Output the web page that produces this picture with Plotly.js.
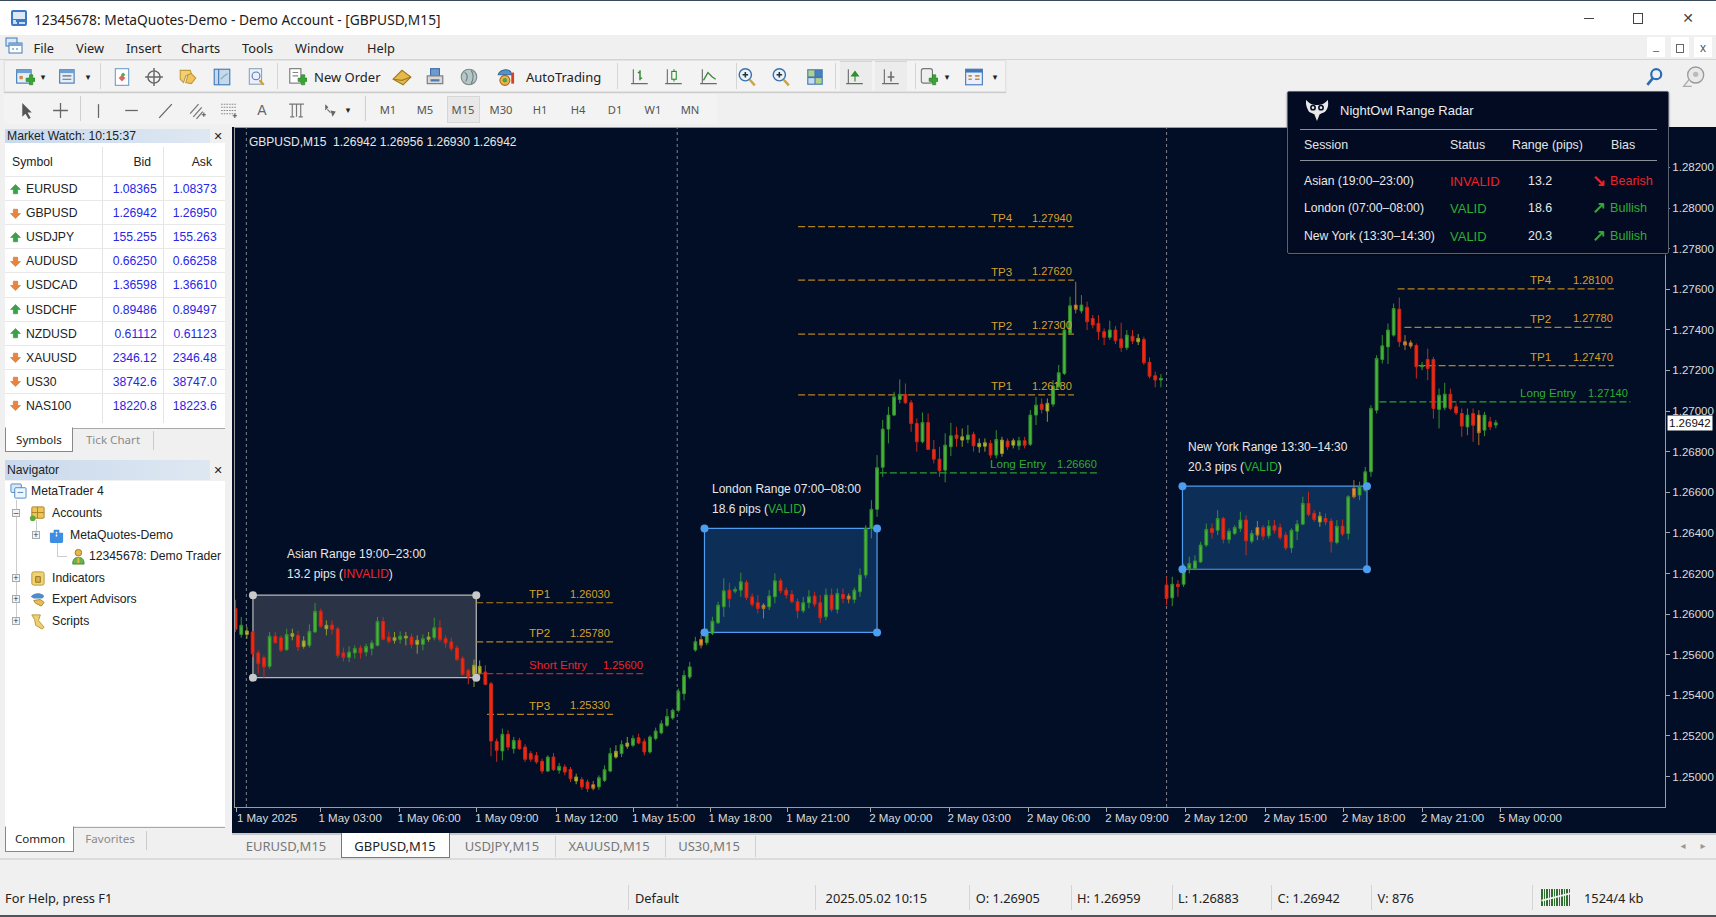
<!DOCTYPE html>
<html><head><meta charset="utf-8"><title>GBPUSD,M15</title>
<script src="https://cdn.plot.ly/plotly-3.0.1.min.js"></script>
<style>
html,body{margin:0;padding:0;width:1716px;height:917px;overflow:hidden;background:#f0f0f0;font-family:"Noto Sans",sans-serif;color:#222}
#app{position:relative;width:1716px;height:917px;overflow:hidden}
.b,.t,svg.i{position:absolute}
.t{white-space:nowrap;line-height:1;transform:translateY(-50%)}
.t.r{transform:translate(-100%,-50%)}
.t.c{transform:translate(-50%,-50%)}
#chart{position:absolute;left:232px;top:127px;width:1484px;height:706px}
</style></head><body><div id="app"></div>
<script>
// ---------- candle data, GBPUSD M15 ----------
const barOpen=[
1.26027,1.25900,1.25900,1.25912,1.25809,1.25785,1.25743,1.25891,1.25884,1.25825,
1.25891,1.25895,1.25841,1.25846,1.25912,1.26014,1.25928,1.25946,1.25927,1.25809,
1.25787,1.25809,1.25833,1.25813,1.25830,1.25846,1.25964,1.25887,1.25871,1.25876,
1.25882,1.25887,1.25851,1.25851,1.25876,1.25884,1.25933,1.25879,1.25863,1.25833,
1.25781,1.25723,1.25703,1.25710,1.25715,1.25657,1.25373,1.25326,1.25408,1.25337,
1.25378,1.25345,1.25313,1.25304,1.25275,1.25227,1.25296,1.25231,1.25247,1.25235,
1.25178,1.25185,1.25173,1.25160,1.25149,1.25181,1.25227,1.25296,1.25313,1.25349,
1.25354,1.25391,1.25373,1.25321,1.25387,1.25415,1.25452,1.25488,1.25526,1.25608,
1.25690,
1.25823,1.25875,1.25859,1.25905,1.25957,1.26036,1.26118,1.26113,1.26118,1.26156,
1.26085,1.26056,1.26044,1.26036,1.26085,1.26164,1.26118,1.26097,1.26061,1.26016,
1.26056,1.26089,1.26056,1.25987,1.26094,1.26023,1.26097,1.26089,1.26072,1.26110,
1.26192,1.26422,1.26516,1.26723,1.26911,1.26980,1.27057,1.27082,1.27041,1.26939,
1.26849,1.26944,1.26811,1.26763,1.26709,1.26824,1.26882,1.26857,1.26860,1.26885,
1.26824,1.26827,1.26841,1.26783,1.26791,1.26852,1.26832,1.26829,1.26854,1.26836,
1.26980,1.27034,1.27000,1.27034,1.27120,1.27185,1.27383,1.27522,1.27493,1.27511,
1.27456,1.27432,1.27391,1.27363,1.27399,1.27355,1.27312,1.27369,1.27341,1.27353,
1.27240,1.27174,1.27153,
1.26143,1.26080,1.26147,1.26147,1.26225,1.26225,1.26257,1.26340,1.26422,1.26413,
1.26471,1.26367,1.26397,1.26422,1.26463,1.26359,1.26426,1.26426,1.26386,1.26435,
1.26426,1.26389,1.26326,1.26408,1.26443,1.26545,1.26496,1.26454,1.26471,1.26458,
1.26353,1.26433,1.26397,1.26619,1.26586,1.26610,1.26701,1.27004,1.27254,1.27316,
1.27374,1.27502,1.27341,1.27336,1.27323,1.27218,1.27254,1.27254,1.27008,1.27016,
1.27083,1.27021,1.26988,1.26922,1.26988,1.26980,1.26906,1.26947,1.26931];
const barHigh=[
1.26071,1.25986,1.25937,1.25917,1.25822,1.25797,1.25912,1.25912,1.25895,1.25928,
1.25928,1.25917,1.25891,1.25950,1.26055,1.26027,1.25969,1.25969,1.25937,1.25835,
1.25841,1.25846,1.25846,1.25854,1.25871,1.25986,1.25986,1.25915,1.25912,1.25915,
1.25912,1.25904,1.25895,1.25900,1.25912,1.25982,1.25969,1.25895,1.25884,1.25846,
1.25792,1.25731,1.25776,1.25772,1.25748,1.25666,1.25387,1.25436,1.25428,1.25395,
1.25391,1.25359,1.25326,1.25321,1.25288,1.25304,1.25316,1.25267,1.25260,1.25247,
1.25214,1.25198,1.25185,1.25178,1.25206,1.25255,1.25342,1.25354,1.25378,1.25395,
1.25403,1.25411,1.25387,1.25403,1.25441,1.25477,1.25534,1.25534,1.25633,1.25723,
1.25765,
1.25888,1.25896,1.25929,1.25987,1.26061,1.26176,1.26154,1.26135,1.26204,1.26167,
1.26102,1.26094,1.26053,1.26118,1.26200,1.26176,1.26131,1.26118,1.26077,1.26085,
1.26118,1.26110,1.26094,1.26126,1.26126,1.26126,1.26126,1.26102,1.26131,1.26225,
1.26438,1.26561,1.26783,1.26956,1.27021,1.27095,1.27156,1.27136,1.27054,1.26964,
1.26993,1.26988,1.26857,1.26824,1.26890,1.26942,1.26923,1.26914,1.26931,1.26898,
1.26865,1.26865,1.26857,1.26906,1.26873,1.26865,1.26865,1.26873,1.26873,1.27005,
1.27070,1.27062,1.27062,1.27153,1.27227,1.27448,1.27563,1.27637,1.27571,1.27539,
1.27473,1.27473,1.27407,1.27445,1.27419,1.27435,1.27399,1.27399,1.27379,1.27366,
1.27264,1.27194,1.27182,
1.26184,1.26184,1.26167,1.26249,1.26282,1.26290,1.26356,1.26446,1.26446,1.26512,
1.26479,1.26422,1.26438,1.26504,1.26487,1.26413,1.26459,1.26438,1.26463,1.26463,
1.26446,1.26405,1.26422,1.26463,1.26578,1.26602,1.26512,1.26504,1.26496,1.26471,
1.26463,1.26466,1.26586,1.26660,1.26652,1.26725,1.27029,1.27275,1.27374,1.27431,
1.27530,1.27559,1.27374,1.27349,1.27333,1.27242,1.27308,1.27267,1.27111,1.27139,
1.27111,1.27037,1.27013,1.27013,1.27013,1.27004,1.26996,1.26972,1.26956];
const barLow=[
1.25912,1.25884,1.25879,1.25789,1.25707,1.25687,1.25731,1.25855,1.25813,1.25818,
1.25871,1.25818,1.25830,1.25835,1.25907,1.25933,1.25895,1.25900,1.25784,1.25767,
1.25764,1.25781,1.25781,1.25792,1.25797,1.25841,1.25871,1.25855,1.25855,1.25855,
1.25846,1.25830,1.25805,1.25822,1.25863,1.25871,1.25863,1.25835,1.25818,1.25769,
1.25698,1.25654,1.25641,1.25698,1.25649,1.25300,1.25272,1.25280,1.25329,1.25313,
1.25332,1.25272,1.25272,1.25263,1.25214,1.25222,1.25227,1.25214,1.25206,1.25173,
1.25162,1.25135,1.25124,1.25132,1.25135,1.25173,1.25221,1.25288,1.25296,1.25337,
1.25345,1.25359,1.25304,1.25313,1.25378,1.25408,1.25444,1.25480,1.25516,1.25575,
1.25680,
1.25815,1.25831,1.25847,1.25896,1.25951,1.25987,1.26033,1.26102,1.26085,1.26069,
1.26036,1.26003,1.25979,1.26020,1.26053,1.26102,1.26077,1.26053,1.25979,1.26006,
1.26028,1.26036,1.25957,1.25970,1.26011,1.26003,1.26053,1.26053,1.26053,1.26085,
1.26176,1.26373,1.26479,1.26676,1.26841,1.26975,1.27038,1.27034,1.26898,1.26800,
1.26841,1.26808,1.26742,1.26676,1.26649,1.26778,1.26824,1.26824,1.26841,1.26800,
1.26795,1.26800,1.26767,1.26767,1.26775,1.26808,1.26816,1.26808,1.26816,1.26828,
1.26931,1.26988,1.26947,1.27021,1.27112,1.27177,1.27374,1.27481,1.27481,1.27399,
1.27407,1.27350,1.27325,1.27350,1.27330,1.27292,1.27300,1.27330,1.27325,1.27227,
1.27161,1.27117,1.27117,
1.26044,1.26039,1.26085,1.26134,1.26200,1.26216,1.26252,1.26331,1.26372,1.26389,
1.26348,1.26348,1.26389,1.26405,1.26290,1.26348,1.26364,1.26364,1.26372,1.26397,
1.26364,1.26315,1.26302,1.26364,1.26438,1.26482,1.26454,1.26430,1.26438,1.26303,
1.26344,1.26384,1.26367,1.26569,1.26561,1.26602,1.26676,1.26988,1.27234,1.27231,
1.27366,1.27316,1.27300,1.27308,1.27160,1.27201,1.27152,1.26963,1.26914,1.27004,
1.27004,1.26980,1.26873,1.26881,1.26848,1.26832,1.26876,1.26906,1.26915];
const barClose=[
1.25925,1.25945,1.25917,1.25805,1.25756,1.25740,1.25891,1.25859,1.25822,1.25900,
1.25904,1.25838,1.25868,1.25915,1.26014,1.25940,1.25945,1.25925,1.25797,1.25787,
1.25813,1.25830,1.25809,1.25841,1.25858,1.25964,1.25876,1.25866,1.25884,1.25891,
1.25891,1.25850,1.25871,1.25879,1.25887,1.25933,1.25874,1.25858,1.25830,1.25776,
1.25703,1.25690,1.25748,1.25743,1.25654,1.25375,1.25329,1.25408,1.25345,1.25378,
1.25337,1.25285,1.25285,1.25272,1.25227,1.25296,1.25234,1.25250,1.25222,1.25189,
1.25198,1.25149,1.25140,1.25142,1.25194,1.25234,1.25313,1.25324,1.25357,1.25365,
1.25387,1.25365,1.25321,1.25395,1.25424,1.25460,1.25496,1.25526,1.25620,1.25698,
1.25740,
1.25864,1.25847,1.25905,1.25965,1.26044,1.26115,1.26077,1.26121,1.26159,1.26082,
1.26048,1.26028,1.26028,1.26089,1.26164,1.26115,1.26094,1.26061,1.26016,1.26056,
1.26085,1.26049,1.25982,1.26094,1.26023,1.26102,1.26077,1.26074,1.26118,1.26192,
1.26422,1.26516,1.26721,1.26911,1.26980,1.27070,1.27082,1.27041,1.26939,1.26849,
1.26944,1.26811,1.26763,1.26706,1.26832,1.26878,1.26865,1.26873,1.26882,1.26829,
1.26841,1.26844,1.26783,1.26860,1.26857,1.26824,1.26854,1.26854,1.26832,1.26980,
1.27029,1.27008,1.27038,1.27123,1.27189,1.27399,1.27519,1.27501,1.27522,1.27440,
1.27424,1.27391,1.27363,1.27399,1.27346,1.27312,1.27374,1.27345,1.27358,1.27238,
1.27172,1.27153,1.27161,
1.26077,1.26147,1.26136,1.26216,1.26249,1.26262,1.26340,1.26417,1.26402,1.26471,
1.26369,1.26408,1.26427,1.26463,1.26361,1.26397,1.26389,1.26384,1.26433,1.26413,
1.26377,1.26326,1.26413,1.26443,1.26545,1.26491,1.26466,1.26482,1.26454,1.26356,
1.26433,1.26394,1.26578,1.26578,1.26627,1.26701,1.27013,1.27259,1.27321,1.27399,
1.27505,1.27341,1.27325,1.27320,1.27218,1.27226,1.27210,1.27013,1.27078,1.27083,
1.27013,1.26991,1.26926,1.26980,1.26930,1.26893,1.26980,1.26922,1.26942];
// bars whose very small bodies read as amber in the picture
const amberBars=[2,10,12,16,28,30,32,34,42,43,60,63,67,69,82,93,108,128,131,132,135,137,143,148,159,180,191,197,206,207,219];
const barIndex=barOpen.map((_,i)=>i);

// ---------- axes ----------
const xTickBars=[0.25,14.9,28.8,42.5,56.5,70.1,83.6,97.3,111.9,125.7,139.7,153.5,167.4,181.4,195.2,209.1,222.8];
const xTickLabels=["1 May 2025","1 May 03:00","1 May 06:00","1 May 09:00","1 May 12:00","1 May 15:00","1 May 18:00","1 May 21:00","2 May 00:00","2 May 03:00","2 May 06:00","2 May 09:00","2 May 12:00","2 May 15:00","2 May 18:00","2 May 21:00","5 May 00:00"];
const yTickVals=[1.282,1.280,1.278,1.276,1.274,1.272,1.270,1.268,1.266,1.264,1.262,1.260,1.258,1.256,1.254,1.252];
const yTickLabels=["1.28200","1.28000","1.27800","1.27600","1.27400","1.27200","1.27000","1.26800","1.26600","1.26400","1.26200","1.26000","1.25600","1.25400","1.25200","1.25000"];
const lastPrice=1.26942;
const separatorBars=[1.9,77.8,164.0];

// ---------- session boxes ----------
const boxTitle=["Asian Range 19:00–23:00","London Range 07:00–08:00","New York Range 13:30–14:30"];
const boxPips=["13.2 pips","18.6 pips","20.3 pips"];
const boxStatus=["INVALID","VALID","VALID"];
const boxFromBar=[3.06,82.6,166.8];
const boxToBar=[42.4,113.0,199.3];
const boxHigh=[1.26093,1.26422,1.26630];
const boxLow=[1.25687,1.25910,1.26221];
const boxLabelBar=[8.7,83.6,167.5];
const boxLabelPrice=[1.26295,1.26615,1.26824];

// ---------- trade levels ----------
const levelName=["TP1","TP2","Short Entry","TP3","TP4","TP3","TP2","TP1","Long Entry","TP4","TP2","TP1","Long Entry"];
const levelValue=["1.26030","1.25780","1.25600","1.25330","1.27940","1.27620","1.27300","1.26180","1.26660","1.28100","1.27780","1.27470","1.27140"];
const levelY=[1.26056,1.25863,1.25707,1.25506,1.27908,1.27645,1.27379,1.27080,1.26696,1.27602,1.27412,1.27224,1.27045];
const levelFrom=[42.4,42.4,42.4,44.3,99.1,99.1,99.1,99.1,113.5,204.7,205.9,208.4,201.5];
const levelTo=[66.5,66.5,72.3,66.5,147.6,147.7,147.7,147.7,152.0,242.8,242.8,242.8,245.7];
const levelNameBar=[51.3,51.3,51.3,51.3,132.8,132.8,132.8,132.8,132.6,227.7,227.7,227.7,225.9];
const levelValueBar=[66.3,66.3,72.2,66.3,147.7,147.7,147.7,147.7,152.1,243.0,243.0,243.0,245.6];

// ---------- panels ----------
const watchSymbols=["EURUSD","GBPUSD","USDJPY","AUDUSD","USDCAD","USDCHF","NZDUSD","XAUUSD","US30","NAS100"];
const watchBid=["1.08365","1.26942","155.255","0.66250","1.36598","0.89486","0.61112","2346.12","38742.6","18220.8"];
const watchAsk=["1.08373","1.26950","155.263","0.66258","1.36610","0.89497","0.61123","2346.48","38747.0","18223.6"];
const watchUp=[1,0,1,0,0,1,1,0,0,0];
const radarSession=["Asian (19:00–23:00)","London (07:00–08:00)","New York (13:30–14:30)"];
const radarStatus=["INVALID","VALID","VALID"];
const radarPips=["13.2","18.6","20.3"];
const radarBias=["Bearish","Bullish","Bullish"];
const menuItems=["File","View","Insert","Charts","Tools","Window","Help"];
const timeframes=["M1","M5","M15","M30","H1","H4","D1","W1","MN"];
const chartTabs=["EURUSD,M15","GBPUSD,M15","USDJPY,M15","XAUUSD,M15","US30,M15"];
const statusCells=["2025.05.02 10:15","O: 1.26905","H: 1.26959","L: 1.26883","C: 1.26942","V: 876"];

// ---------- colours ----------
const BG="#020e25",GOLD="#d6a02c",GOLDLINE="#b5811f",RED="#f02228",GREEN="#30ad30",WHITE="#e8e8e8";
const colourOf=s=>s==="INVALID"?RED:GREEN;

// ---------- plotly chart ----------
const shapes=[];
separatorBars.forEach(b=>shapes.push({type:"line",layer:"below",xref:"x",yref:"paper",x0:b,x1:b,y0:0,y1:1,line:{color:"#7e838e",width:1,dash:"dot"}}));
boxTitle.forEach((_,i)=>{
  const grey=i===0;
  shapes.push({type:"rect",layer:"below",xref:"x",yref:"y",x0:boxFromBar[i],x1:boxToBar[i],y0:boxLow[i],y1:boxHigh[i],
    fillcolor:grey?"rgba(190,190,195,0.22)":"rgba(40,125,205,0.30)",
    line:{color:grey?"#b9b9b9":"#4f9df0",width:1.2}});
});
levelName.forEach((n,i)=>{
  const c=n.startsWith("Short")?"#c8202c":n.startsWith("Long")?"#2d9c33":GOLDLINE;
  shapes.push({type:"line",layer:"below",xref:"x",yref:"y",x0:levelFrom[i],x1:levelTo[i],y0:levelY[i],y1:levelY[i],line:{color:c,width:1.2,dash:"7px,3px"}});
});
const annotations=[];
levelName.forEach((n,i)=>{
  const c=n.startsWith("Short")?RED:n.startsWith("Long")?GREEN:GOLD;
  annotations.push({xref:"x",yref:"y",x:levelNameBar[i],y:levelY[i],yshift:9,text:n,showarrow:false,xanchor:"left",yanchor:"middle",font:{family:"Liberation Sans",size:11.6,color:c}});
  annotations.push({xref:"x",yref:"y",x:levelValueBar[i],y:levelY[i],yshift:9,text:levelValue[i],showarrow:false,xanchor:"right",yanchor:"middle",font:{family:"Liberation Sans",size:11,color:c}});
});
boxTitle.forEach((t,i)=>{
  annotations.push({xref:"x",yref:"y",x:boxLabelBar[i],y:boxLabelPrice[i],text:t,showarrow:false,xanchor:"left",yanchor:"middle",font:{family:"Liberation Sans",size:12,color:WHITE}});
  annotations.push({xref:"x",yref:"y",x:boxLabelBar[i],y:boxLabelPrice[i],yshift:-20,showarrow:false,xanchor:"left",yanchor:"middle",font:{family:"Liberation Sans",size:12,color:WHITE},
    text:boxPips[i]+' (<span style="color:'+colourOf(boxStatus[i])+'">'+boxStatus[i]+'</span>)'});
});
annotations.push({xref:"paper",yref:"paper",x:0,y:1,xshift:12,yshift:-14,xanchor:"left",yanchor:"middle",showarrow:false,
  text:"GBPUSD,M15  1.26942 1.26956 1.26930 1.26942",font:{family:"Liberation Sans",size:12,color:WHITE}});
annotations.push({xref:"paper",yref:"y",x:1,xshift:2,y:lastPrice,xanchor:"left",yanchor:"middle",showarrow:false,text:"1.26942",
  bgcolor:"#ffffff",borderpad:1,font:{family:"Liberation Sans",size:11.5,color:"#111"}});

const cornerX=[],cornerY=[],cornerC=[];
boxTitle.forEach((_,i)=>{
  [[boxFromBar[i],boxHigh[i]],[boxToBar[i],boxHigh[i]],[boxFromBar[i],boxLow[i]],[boxToBar[i],boxLow[i]]].forEach(p=>{
    cornerX.push(p[0]);cornerY.push(p[1]);cornerC.push(i===0?"#c9c9c9":"#4f9df0");
  });
});
const isAmber=new Set(amberBars);
const mainIdx=barIndex.filter(i=>!isAmber.has(i));
const pick=(arr,idx)=>idx.map(i=>arr[i]);
const traces=[
 {type:"candlestick",x:mainIdx,open:pick(barOpen,mainIdx),high:pick(barHigh,mainIdx),low:pick(barLow,mainIdx),close:pick(barClose,mainIdx),whiskerwidth:0,showlegend:false,hoverinfo:"skip",
  increasing:{line:{color:"#35902f",width:1},fillcolor:"#48b53a"},
  decreasing:{line:{color:"#c8281a",width:1},fillcolor:"#f5280f"}},
 {type:"candlestick",x:amberBars,open:pick(barOpen,amberBars),high:pick(barHigh,amberBars),low:pick(barLow,amberBars),close:pick(barClose,amberBars),whiskerwidth:0,showlegend:false,hoverinfo:"skip",
  increasing:{line:{color:"#8f9a2c",width:1},fillcolor:"#c9b52a"},
  decreasing:{line:{color:"#b0702a",width:1},fillcolor:"#e8962a"}},
 {type:"scatter",mode:"markers",x:cornerX,y:cornerY,showlegend:false,hoverinfo:"skip",marker:{size:8,color:cornerC}}
];
const axisFont={family:"Liberation Sans",size:11.5,color:"#dcdcdc"};
const layout={
  width:1484,height:706,autosize:false,paper_bgcolor:BG,plot_bgcolor:BG,showlegend:false,boxgap:0.3,boxmode:"overlay",
  margin:{l:2.7,r:50.5,t:1,b:26.3,pad:0,autoexpand:false},
  xaxis:{type:"linear",range:[-0.1,251.8],tickmode:"array",tickvals:xTickBars,ticktext:xTickLabels,tickangle:0,ticks:"outside",ticklen:4,tickcolor:"#a8a8a8",
    ticklabelshift:30,ticklabelstandoff:-4,tickfont:axisFont,showgrid:false,zeroline:false,showline:true,mirror:true,linecolor:"#9c9c9c",linewidth:1,rangeslider:{visible:false},fixedrange:true},
  yaxis:{type:"linear",side:"right",range:[1.25050,1.28394],tickmode:"array",tickvals:yTickVals,ticktext:yTickLabels,ticks:"outside",ticklen:4,tickcolor:"#a8a8a8",
    tickfont:axisFont,showgrid:false,zeroline:false,showline:true,mirror:true,linecolor:"#9c9c9c",linewidth:1,fixedrange:true},
  shapes,annotations
};

// ---------- window chrome ----------
const app=document.getElementById("app");
function box(x,y,w,h,css){const d=document.createElement("div");d.className="b";d.style.cssText=`left:${x}px;top:${y}px;width:${w}px;height:${h}px;${css||""}`;app.appendChild(d);return d;}
function txt(x,y,s,css,cls){const d=document.createElement("div");d.className="t "+(cls||"");d.style.cssText=`left:${x}px;top:${y}px;${css||""}`;d.textContent=s;app.appendChild(d);return d;}
function ic(cx,cy,inner,size){const s=size||18;const n=document.createElementNS("http://www.w3.org/2000/svg","svg");n.setAttribute("class","i");n.setAttribute("viewBox","0 0 18 18");n.setAttribute("width",s);n.setAttribute("height",s);n.style.left=(cx-s/2)+"px";n.style.top=(cy-s/2)+"px";n.innerHTML=inner;app.appendChild(n);return n;}
const SYS='font-family:"Noto Sans",sans-serif;';
const LIB='font-family:"Liberation Sans",sans-serif;';
const plus='<path d="M10 10h3V7h3v3h2v3h-2v3h-3v-3h-3z" fill="#3aa535" stroke="#1f7a1f" stroke-width=".5"/>';
const win='<rect x="1.5" y="2.5" width="13" height="12" fill="#e6eef8" stroke="#3f78b5"/><rect x="1.5" y="2.5" width="13" height="3" fill="#6ea0d5"/>';
const axes='<path d="M3 2v13h13M1 15h4" fill="none" stroke="#6b6b6b"/>';
const ICON={
 newChart:win+'<path d="M4 8h3v3H4z" fill="#c84"/>'+plus,
 profile:win+'<path d="M4 8h8M4 11h8" stroke="#6b6b6b"/>',
 doc:'<rect x="3" y="1.5" width="12" height="15" fill="#fff" stroke="#6fa0cc"/><path d="M6 10l3-3 3 3-3 3z" fill="#d66"/><path d="M8 7l2-2 2 2-2 2z" fill="#5a5"/>',
 target:'<circle cx="9" cy="9" r="5.5" fill="none" stroke="#666" stroke-width="1.3"/><path d="M9 1v16M1 9h16" stroke="#666" stroke-width="1.3"/>',
 star:'<path d="M2 3h9l1 3-5 2-2 6-3-3z" fill="#f2cf70" stroke="#c09a3a"/><path d="M9 7l3-1 4 4-4 5-5-1z" fill="#f0c560" stroke="#c09a3a"/>',
 book:'<rect x="2" y="2" width="14" height="14" fill="#c5d8ec" stroke="#3f78b5"/><path d="M6 2v14" stroke="#3f78b5"/><path d="M8 11l3-3 3-2" fill="none" stroke="#7aa"/>',
 tester:'<rect x="3" y="1.5" width="11" height="14" fill="#eef" stroke="#8aa"/><circle cx="9" cy="8" r="3.5" fill="none" stroke="#4a80b0"/><path d="M12 12l4 4" stroke="#c9a040" stroke-width="2"/>',
 order:'<rect x="2.5" y="1.5" width="10" height="13" fill="#fff" stroke="#777"/><path d="M5 5h5M5 8h5" stroke="#888"/>'+plus,
 gem:'<path d="M1 11l8-8 8 6-7 7z" fill="#e8b948" stroke="#9c7a20"/><path d="M1 11l8 1 8-3" fill="none" stroke="#9c7a20"/>',
 printer:'<rect x="5" y="1.5" width="8" height="7" fill="#6c9ad0" stroke="#3f6ea5"/><rect x="2" y="8" width="14" height="7" fill="#d8d8d8" stroke="#777"/><path d="M5 12h8" stroke="#4a7ab0" stroke-width="2"/>',
 globe:'<circle cx="9" cy="9" r="7" fill="#b9c6c8" stroke="#7b8a8c"/><path d="M5 5c3 1 3 5 1 8M11 3c2 3 2 8 0 12" fill="none" stroke="#5f7f7f"/>',
 auto:'<path d="M2 7c1-4 7-6 11-3l1 3H2z" fill="#5a92c8" stroke="#2f6b9f"/><circle cx="8" cy="12" r="4.5" fill="#ecb54a" stroke="#b7621a"/><circle cx="8" cy="12" r="2" fill="#4ba24a"/><path d="M15 5v10" stroke="#d4421f" stroke-width="2.5"/>',
 bar:axes+'<path d="M9 3v9M7 5h2M9 10h2" stroke="#2c8a2c" stroke-width="1.3"/>',
 candle:axes+'<path d="M9 2v11" stroke="#2c8a2c"/><rect x="7" y="4" width="4" height="7" fill="#fff" stroke="#2c8a2c"/>',
 line:axes+'<path d="M4 12l4-7 4 4 3 2" fill="none" stroke="#3a8a3a" stroke-width="1.2"/>',
 zoomIn:'<circle cx="7.5" cy="7" r="5.5" fill="#eaf3fb" stroke="#3a72ad" stroke-width="1.3"/><path d="M5 7h5M7.5 4.5v5" stroke="#233" stroke-width="1.4"/><path d="M11.5 11.5l4.5 5" stroke="#cfa33e" stroke-width="2.2"/>',
 tile:'<rect x="2" y="2" width="14" height="14" fill="#3f78b5"/><rect x="3" y="3" width="5.5" height="5.5" fill="#b2d28a"/><rect x="9.5" y="3" width="5.5" height="5.5" fill="#4a80c0"/><rect x="3" y="10" width="5.5" height="5" fill="#c9dced"/><rect x="9.5" y="10" width="5.5" height="5" fill="#b2d28a"/>',
 shift:axes+'<path d="M9 4v9M6 8l3-4 3 4z" stroke="#2c8a2c" fill="#3aa535"/>',
 shift2:axes+'<path d="M9 4v9M6 9h6" stroke="#6b6b6b" stroke-width="1.4"/>',
 addInd:'<rect x="3" y="1.5" width="10" height="13" rx="2" fill="#eee" stroke="#777"/>'+plus,
 tpl:'<rect x="1.5" y="2" width="15" height="14" fill="#eef" stroke="#3f78b5"/><rect x="1.5" y="2" width="15" height="3" fill="#3f78b5"/><path d="M4 8h3M4 11h3M10 8h4M10 11h4" stroke="#b8923c" stroke-width="1.5"/>',
 search:'<circle cx="11" cy="6.5" r="4.5" fill="none" stroke="#2c6cb5" stroke-width="2"/><path d="M8 10l-5 6" stroke="#2c6cb5" stroke-width="2.4"/>',
 balloon:'<circle cx="11" cy="7.5" r="6" fill="#e9e9e9" stroke="#999"/><path d="M6 11l-4 5h6" fill="#eee" stroke="#aaa"/><circle cx="11" cy="7" r="2" fill="#bbb"/>',
 cursor:'<path d="M5 2v13l3-3 3 5 2-1-3-5h4z" fill="#555"/>',
 cross:'<path d="M9 2v14M2 9h14" stroke="#666" stroke-width="1.2"/>',
 vline:'<path d="M9 3v13" stroke="#666" stroke-width="1.2"/>',
 hline:'<path d="M3 9h12" stroke="#666" stroke-width="1.2"/>',
 trend:'<path d="M3 16L15 3" stroke="#666" stroke-width="1.2"/>',
 channel:'<path d="M2 12L10 3M5 15l8-9M8 17l6-7" stroke="#777" stroke-width="1.2"/><path d="M13 13h4M15 11v4" stroke="#555"/>',
 fibo:'<path d="M2 3h14M2 6h14M2 9h14M2 12h14" stroke="#888" stroke-dasharray="1.5 1"/><path d="M13 14h4M15 12v4" stroke="#555"/>',
 gann:'<path d="M2 3h14M5 3v12M13 3v12M3 15h4M11 15h4M9 3v12" stroke="#777" stroke-width="1.1"/>',
 shapes:'<path d="M4 3l3 3-3 3zM9 9l5 1-3 5z" fill="#666"/><path d="M6 8l3 3" stroke="#666"/>',
 appIcon:'<rect x="1" y="1" width="16" height="16" rx="2" fill="#3b78c8"/><rect x="3" y="3" width="12" height="7" fill="#dce8f5"/><path d="M3 14h4M9 14h6M3 12h3" stroke="#fff" stroke-width="1.4"/>',
 menuIcon:'<rect x="1" y="1" width="11" height="8" fill="#dbe8f6" stroke="#3f78b5"/><rect x="4" y="6" width="13" height="10" fill="#fff" stroke="#3f78b5"/><rect x="4" y="6" width="13" height="3" fill="#7aa8d8"/><path d="M7 12h2M11 12h2" stroke="#3f78b5"/>',
 mt4:'<rect x="1" y="1" width="11" height="9" rx="1" fill="#dbe8f6" stroke="#4a86c8"/><rect x="5" y="5" width="12" height="11" rx="1" fill="#eef5fb" stroke="#4a86c8"/><path d="M8 10h6" stroke="#4a86c8"/>',
 accounts:'<rect x="3" y="2" width="13" height="12" rx="1" fill="#efc45c" stroke="#a87f20"/><path d="M9 2v12M3 8h13" stroke="#a87f20"/><circle cx="4" cy="14" r="3" fill="#5ca83c"/>',
 server:'<path d="M6 3h6v3h4v9a2 2 0 0 1-2 2H4a2 2 0 0 1-2-2V6h4z" fill="#3e8de0"/><path d="M9 5v6" stroke="#fff" stroke-width="1.5" stroke-dasharray="2 1"/>',
 person:'<circle cx="11" cy="5" r="3.5" fill="#e7b84c" stroke="#a07a20"/><path d="M5 17c0-6 3-7 6-7s6 1 6 7z" fill="#6cb24a" stroke="#3f8a2c"/><path d="M11 10v6" stroke="#e7b84c" stroke-width="2"/>',
 indicator:'<rect x="3" y="2" width="13" height="14" rx="2" fill="#f1d373" stroke="#b89536"/><path d="M7 7h5v6H7z" fill="#d6b149" stroke="#8f7425"/>',
 advisor:'<path d="M2 6c2-4 9-5 13-2 2 2 0 4-3 4H5z" fill="#4e8cc8"/><path d="M5 10l7-1 4 3-3 4-6-3z" fill="#e9bc55" stroke="#ac862c"/>',
 script:'<path d="M3 2h9l-2 6 6 7-2 2-7-4-1-6z" fill="#f0cf70" stroke="#b89536"/>'
};

// frame
box(0,0,1716,35,"background:#fff");
box(0,0,1716,1,"background:#3a4a5a");
ic(18.5,18,ICON.appIcon,18);
txt(34,19.5,"12345678: MetaQuotes-Demo - Demo Account - [GBPUSD,M15]",SYS+"font-size:13.75px;color:#1c1c1c");
box(1584,18,10,1.4,"background:#444");
box(1633,13,10,11,"border:1.3px solid #444;box-sizing:border-box");
txt(1688,18,"✕",'font-family:"DejaVu Sans";font-size:14px;color:#444',"c");
// menu bar
ic(14,46,ICON.menuIcon,18);
const menuX=[33.5,76,126,181,242,295,367];
menuItems.forEach((m,i)=>txt(menuX[i],48,m,SYS+"font-size:12.8px;color:#222"));
[1656,1680,1703].forEach(x=>box(x-9,37,18,20,"background:#fff"));
txt(1656,50,"–",LIB+"font-size:11px;color:#555","c");
box(1676,44,8,9,"border:1px solid #666;box-sizing:border-box");
txt(1703,48,"x",LIB+"font-size:12px;color:#555","c");
// toolbar 1
box(0,59,1716,1,"background:#d4d4d4");
box(4,60,1002,32,"background:#f3f3f3;border:1px solid #e2e2e2;box-sizing:border-box;box-shadow:0 1px 1px #ccc");
box(840,61,32,30,"background:#ececec;border-top:1px solid #d4d4d4;box-sizing:border-box");
box(875,61,32,30,"background:#ececec;border-top:1px solid #d4d4d4;box-sizing:border-box");
const tb1=[[25,"newChart"],[68,"profile"],[122,"doc"],[154,"target"],[188,"star"],[222,"book"],[256,"tester"],[297,"order"],[402,"gem"],[435,"printer"],[469,"globe"],[506,"auto"],[640,"bar"],[674,"candle"],[709,"line"],[747,"zoomIn"],[781,"zoomIn"],[815,"tile"],[855,"shift"],[891,"shift2"],[928,"addInd"],[974,"tpl"]];
tb1.forEach(a=>ic(a[0],77,ICON[a[1]],20));
[[43,77],[88,77],[947,77],[995,77]].forEach(p=>txt(p[0],p[1],"▾",'font-family:"DejaVu Sans";font-size:9px;color:#222',"c"));
txt(314,77,"New Order",SYS+"font-size:13px;color:#222");
txt(526,77,"AutoTrading",SYS+"font-size:13px;color:#222");
[100,277,617,736,835,915].forEach(x=>box(x,63,1,26,"background:#d5d5d5"));
ic(1654,77,ICON.search,20);ic(1693,77,ICON.balloon,24);
// toolbar 2
box(4,94,360,30,"background:#f3f3f3");
box(365,94,352,30,"background:#f3f3f3");
[[26,"cursor"],[60,"cross"],[98,"vline"],[131,"hline"],[165,"trend"],[197,"channel"],[228,"fibo"],[296,"gann"],[330,"shapes"]].forEach(a=>ic(a[0],110,ICON[a[1]],19));
txt(262,110,"A",LIB+"font-size:14px;color:#666","c");
txt(348,110,"▾",'font-family:"DejaVu Sans";font-size:9px;color:#222',"c");
[80,365].forEach(x=>box(x,96,1,25,"background:#cfcfcf"));
box(447,96,33,27,"background:#e8e8e8;border:1px solid #d6d6d6;box-sizing:border-box");
const tfX=[388,425,463,501,540,578,615,653,690];
timeframes.forEach((t,i)=>txt(tfX[i],110,t,SYS+"font-size:11.2px;color:#555","c"));
// market watch
box(0,124,232,736,"background:#f0f0f0");
box(5,143,220,285,"background:#fff");
box(5,129,205,14,"background:linear-gradient(90deg,#c9d9ec,#dee8f2)");
txt(7,136,"Market Watch: 10:15:37",LIB+"font-size:12.2px;color:#222");
txt(218,136,"✕",'font-family:"DejaVu Sans";font-size:11px;font-weight:bold;color:#222',"c");
box(101.5,147,1,276,"background:#e4e4e4");box(162.5,147,1,276,"background:#e4e4e4");
txt(12,162,"Symbol",LIB+"font-size:12.2px;color:#222");
txt(151,162,"Bid",LIB+"font-size:12.2px;color:#222","r");
txt(212,162,"Ask",LIB+"font-size:12.2px;color:#222","r");
watchSymbols.forEach((s,i)=>{
  const y=189+i*24.1;
  box(5,y-13,220,1,"background:#e8e8e8");
  const up=watchUp[i];
  ic(15,y,up?'<path d="M9 2l7 7h-4v6H6V9H2z" fill="#3aa04a" stroke="#2a7a35" stroke-width=".6"/>':'<path d="M9 16L2 9h4V3h6v6h4z" fill="#e8843c" stroke="#bb5a1e" stroke-width=".6"/>',13);
  txt(26,y,s,LIB+"font-size:12.2px;color:#222");
  txt(156.7,y,watchBid[i],LIB+"font-size:12.2px;color:#2626e6","r");
  txt(216.7,y,watchAsk[i],LIB+"font-size:12.2px;color:#2626e6","r");
});
box(5,428,220,1,"background:#a8a8a8");
box(5,427,68,25,"background:#fff;border:1px solid #888;border-top-color:#fff;box-sizing:border-box");
txt(39,440,"Symbols",SYS+"font-size:11.6px;color:#222","c");
txt(113,440,"Tick Chart",SYS+"font-size:11.6px;color:#8a8a8a","c");
box(153,431,1,19,"background:#ccc");
// navigator
box(5,481,220,345,"background:#fff");
box(5,460,205,20,"background:linear-gradient(90deg,#c9d9ec,#dee8f2)");
txt(7,470,"Navigator",LIB+"font-size:12.2px;color:#222");
txt(218,470,"✕",'font-family:"DejaVu Sans";font-size:11px;font-weight:bold;color:#222',"c");
const nav=[[31,491,"MetaTrader 4","mt4",18],[52,513,"Accounts","accounts",37],[70,535,"MetaQuotes-Demo","server",56],[89,556,"12345678: Demo Trader","person",76],[52,578,"Indicators","indicator",37],[52,599,"Expert Advisors","advisor",37],[52,621,"Scripts","script",37]];
box(16,500,1,120,"background:#ccc");box(36,520,1,16,"background:#ccc");box(57,542,1,14,"background:#ccc;");box(57,556,10,1,"background:#ccc");
nav.forEach(n=>{txt(n[0],n[1],n[2],LIB+"font-size:12.2px;color:#222");ic(n[4],n[1],ICON[n[3]],17);});
[[16,513,"–"],[36,535,"+"],[16,578,"+"],[16,599,"+"],[16,621,"+"]].forEach(p=>{
  box(p[0]-4,p[1]-4,8,8,"background:#f3f3f3;border:1px solid #aaa;box-sizing:border-box");
  txt(p[0],p[1],p[2],LIB+"font-size:9px;color:#333","c");
});
box(5,827,220,1,"background:#a8a8a8");
box(5,826,69,26,"background:#fff;border:1px solid #888;border-top-color:#fff;box-sizing:border-box");
txt(40,839,"Common",SYS+"font-size:11.6px;color:#222","c");
txt(110,839,"Favorites",SYS+"font-size:11.6px;color:#8a8a8a","c");
box(146,831,1,19,"background:#ccc");
// chart tabs
box(232,833,1484,27,"background:#f0f0f0");
box(232,833,1484,2,"background:#c8c8c8");
box(341,833,109,25,"background:#fff;border:1px solid #777;border-top:none;box-sizing:border-box");
const tabX=[286,395,502,609,709];
chartTabs.forEach((t,i)=>txt(tabX[i],846,t,SYS+"font-size:13px;color:"+(i===1?"#222":"#777"),"c"));
[554.6,665,755].forEach(x=>box(x,836,1,21,"background:#d0d0d0"));
txt(1683,846,"◂",'font-family:"DejaVu Sans";font-size:10px;color:#999',"c");
txt(1703,846,"▸",'font-family:"DejaVu Sans";font-size:10px;color:#999',"c");
// status bar
box(0,858,1716,2,"background:#dcdcdc");
box(0,915,1716,2,"background:#4a5560");
txt(5,898,"For Help, press F1",SYS+"font-size:12.8px;color:#222");
txt(635,898,"Default",SYS+"font-size:12.8px;color:#222");
const statusX=[825.6,975.7,1077,1178,1277.6,1377.5];
statusCells.forEach((s,i)=>txt(statusX[i],898,s,SYS+"font-size:12.8px;color:#222"));
[628,814.6,969,1071,1172,1271,1371,1532].forEach(x=>box(x,885,1,25,"background:#d4d4d4"));
for(let k=0;k<12;k++)box(1541+k*2.5,889,1.6,17,"background:#2e6e2e");
box(1541,896,30,1.5,"background:#f0f0f0;transform:rotate(-14deg)");
txt(1584,898,"1524/4 kb",SYS+"font-size:12.8px;color:#222");
// plot host
const host=document.createElement("div");host.id="chart";app.appendChild(host);

// radar panel
box(1287,91,382,163,"background:#020b22;border:1px solid #5b6270;border-radius:2px;box-sizing:border-box;box-shadow:0 1px 2px rgba(0,0,0,.6);z-index:5");
function ptxt(x,y,s,css,cls){const d=txt(x,y,s,css,cls);d.style.zIndex=6;return d;}
ic(1317,109,'<path d="M1 2c2 3 5 4 8 4s6-1 8-4c1 4 0 7-2 9-1 1-3 1-4 2l-2 5-2-5c-1-1-3-1-4-2C2 9 0 6 1 2z" fill="#e8e8e8"/><circle cx="6" cy="8" r="2.2" fill="#020b22"/><circle cx="12" cy="8" r="2.2" fill="#020b22"/><circle cx="6" cy="8" r="1" fill="#e8e8e8"/><circle cx="12" cy="8" r="1" fill="#e8e8e8"/>',24).style.zIndex=6;
ptxt(1340,110,"NightOwl Range Radar",LIB+"font-size:13px;color:#ececec");
box(1300,129,357,1,"background:#8a8f99;z-index:6");
box(1300,160,357,1,"background:#8a8f99;z-index:6");
ptxt(1304,145,"Session",LIB+"font-size:12.4px;color:#e4e4e4");
ptxt(1450,145,"Status",LIB+"font-size:12.4px;color:#e4e4e4");
ptxt(1512,145,"Range (pips)",LIB+"font-size:12.4px;color:#e4e4e4");
ptxt(1611,145,"Bias",LIB+"font-size:12.4px;color:#e4e4e4");
const radarY=[181,208,236];
radarSession.forEach((s,i)=>{
  const y=radarY[i],bc=radarBias[i]==="Bearish"?RED:GREEN;
  ptxt(1304,y,s,LIB+"font-size:12.2px;color:#e8e8e8");
  ptxt(1450,y-0.5,radarStatus[i],LIB+"font-size:13px;color:"+colourOf(radarStatus[i]));
  ptxt(1528,y,radarPips[i],LIB+"font-size:12.4px;color:#e8e8e8");
  ptxt(1599,y,radarBias[i]==="Bearish"?"↘":"↗",'font-family:"DejaVu Sans";font-weight:bold;font-size:17px;color:'+bc,"c");
  ptxt(1610,y,radarBias[i],LIB+"font-size:12.6px;color:"+bc);
});
Plotly.newPlot(host,traces,layout,{staticPlot:true,displayModeBar:false,responsive:false});
</script></body></html>
